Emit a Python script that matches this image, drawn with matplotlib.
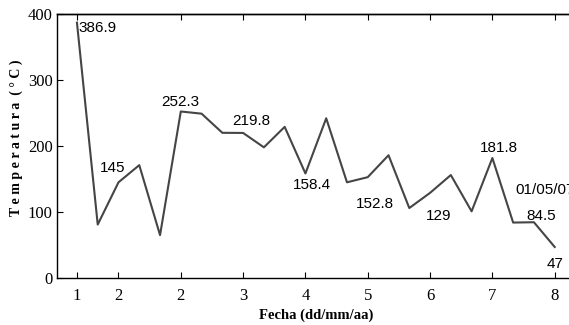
import matplotlib.pyplot as plt

plt.rcParams["font.family"] = ["Liberation Serif", "DejaVu Serif"]

# datos
temperaturas = [386.9, 81, 145, 171, 65, 252.3, 249, 220, 219.8, 198, 229, 158.4,
                242, 145, 152.8, 186, 106, 129, 156, 101, 181.8, 84, 84.5, 47]
indices = list(range(len(temperaturas)))

xtick_idx = [0, 2, 5, 8, 11, 14, 17, 20, 23]
xtick_labels = ["1", "2", "2", "3", "4", "5", "6", "7", "8"]
top_tick_idx = [0, 5, 8, 11, 14, 17, 20, 23]
yticks = [0, 100, 200, 300, 400]

# etiquetas: (indice, texto, desplazamiento en puntos, alineacion)
etiquetas = [
    (0, "386.9", (15, -4), "center"),
    (2, "145", (-4.5, 10), "center"),
    (5, "252.3", (0, 7), "center"),
    (8, "219.8", (6, 8.5), "center"),
    (11, "158.4", (5, -8.5), "center"),
    (14, "152.8", (5, -19), "center"),
    (17, "129", (6, -16.5), "center"),
    (20, "181.8", (4.5, 7), "center"),
    (22, "01/05/07", (-13.5, 23), "left"),
    (22, "84.5", (5, 4.5), "center"),
    (23, "47", (0, -12), "center"),
]

fig = plt.figure(figsize=(5.69, 3.25), dpi=100)
ax = fig.add_axes([0.1002, 0.1446, 0.9086, 0.8123])

ax.plot(indices, temperaturas, color="#454545", linewidth=1.5)

for i, txt, off, ha in etiquetas:
    ax.annotate(txt, (indices[i], temperaturas[i]), xytext=off,
                textcoords="offset points", ha=ha, va="center",
                fontsize=11, family="Liberation Sans", color="black")

ax.set_xlim(-0.96, 23.93)
ax.set_ylim(0, 400)
ax.set_xticks(xtick_idx)
ax.set_xticklabels(xtick_labels)
ax.set_yticks(yticks)
ax.set_yticklabels([str(v) for v in yticks])
ax.tick_params(axis="x", direction="in", length=4, pad=7, width=0.8, labelsize=12)
ax.tick_params(axis="y", direction="in", length=4, pad=3, width=0.8, labelsize=12)

secax = ax.secondary_xaxis("top")
secax.set_xticks(top_tick_idx)
secax.set_xticklabels([])
secax.tick_params(direction="in", length=4, width=0.8)

for s in ["left", "bottom", "top"]:
    ax.spines[s].set_linewidth(1.0)
secax.spines["top"].set_linewidth(1.0)
ax.spines["right"].set_visible(False)

fig.text(0.555, 0.029, "Fecha (dd/mm/aa)", ha="center", va="center",
         fontweight="bold", fontsize=10.5)
fig.text(0.029, 0.575, " ".join("Temperatura (°C)").replace("   ", "  "),
         ha="center", va="center", rotation=90,
         fontweight="bold", fontsize=10)

plt.savefig("out.png", dpi=100)
plt.close(fig)
